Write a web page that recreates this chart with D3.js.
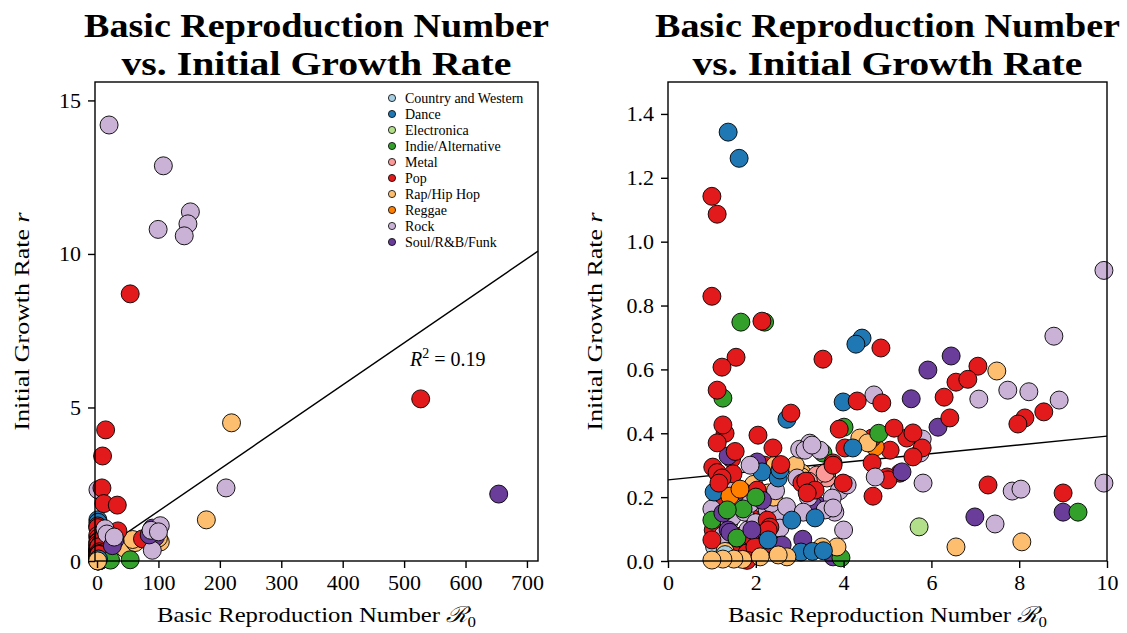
<!DOCTYPE html>
<html>
<head>
<meta charset="utf-8">
<script src="https://cdn.jsdelivr.net/npm/d3@7"></script>
<style>
  body { margin: 0; background: #fff; }
  svg text { font-family: "Liberation Serif", "DejaVu Serif", serif; fill: #000; }
</style>
</head>
<body>
<svg id="chart" width="1127" height="633"></svg>
<script>
// Genre names and their colours (ColorBrewer "Paired")
const genres = ["Country and Western", "Dance", "Electronica", "Indie/Alternative", "Metal",
                "Pop", "Rap/Hip Hop", "Reggae", "Rock", "Soul/R&B/Funk"];
const genreColors = ["#a6cee3", "#1f78b4", "#b2df8a", "#33a02c", "#fb9a99",
                     "#e31a1c", "#fdbf6f", "#ff7f00", "#cab2d6", "#6a3d9a"];

// Each song: [basic reproduction number R0, initial growth rate r]
const countryWestern = [[1.06, 0.045], [1.3, 0.02]];
const dance = [[1.37, 1.343], [1.62, 1.261], [4.42, 0.698], [4.28, 0.679], [3.99, 0.498],
  [4.21, 0.354], [2.71, 0.444], [1.05, 0.216], [2.14, 0.279], [2.51, 0.26], [2.55, 0.285],
  [2.82, 0.128], [3.35, 0.135], [3.03, 0.028], [3.29, 0.03], [3.54, 0.032], [2.28, 0.066]];
const electronica = [[5.72, 0.107]];
const indie = [[1.66, 0.748], [2.2, 0.748], [1.25, 0.51], [4.01, 0.419], [4.8, 0.4],
  [3.53, 0.338], [9.34, 0.153], [1.71, 0.163], [1.0, 0.128], [1.57, 0.072], [3.94, 0.01],
  [1.35, 0.16], [2.0, 0.2], [54, 0.04], [22, 0.03]];
const metal = [[3.62, 0.26], [3.39, 0.269], [3.58, 0.275], [3.2, 0.25]];
const pop = [[1.03, 0.097], [1.57, 0.034], [1.71, 0.081], [2.03, 0.056], [2.2, 0.3],
  [1.3, 0.19], [1.9, 0.15], [2.4, 0.05], [1.2, 0.05], [2.1, 0.17], [1.45, 0.32], [1.3, 0.4],
  [5.06, 0.347], [5.28, 0.275], [4.99, 0.263], [5.01, 0.254], [4.65, 0.385], [4.03, 0.354],
  [4.65, 0.307], [5.44, 0.385], [5.79, 0.354], [5.58, 0.326],
  [1.0, 1.142], [1.12, 1.086], [1.0, 0.829], [2.14, 0.751], [3.53, 0.632],
  [4.85, 0.667], [1.55, 0.638], [1.23, 0.607], [1.12, 0.535], [4.31, 0.501], [4.87, 0.495],
  [6.56, 0.56], [6.29, 0.513], [7.06, 0.61], [6.83, 0.569], [6.42, 0.448], [8.56, 0.467],
  [8.13, 0.448], [7.97, 0.429], [3.9, 0.413], [5.15, 0.416], [5.58, 0.401],
  [3.76, 0.307], [7.29, 0.238], [9.0, 0.213], [4.67, 0.203],
  [2.26, 0.128], [2.32, 0.106], [1.87, 0.066], [2.28, 0.097], [1.0, 0.066], [1.48, 0.025],
  [1.8, 0.025], [1.98, 0.044], [1.8, 0.002], [2.03, 0.222],
  [74, 0.72], [12, 0.8], [34, 0.98], [54, 8.7], [527, 5.28], [14, 4.27], [9, 3.42],
  [1.25, 0.426], [1.12, 0.37], [1.53, 0.343], [1.02, 0.294], [1.12, 0.277],
  [1.48, 0.273], [1.23, 0.26], [1.16, 0.244], [2.05, 0.394], [2.39, 0.354], [2.57, 0.302],
  [2.8, 0.463], [3.05, 0.244], [3.14, 0.25], [3.76, 0.3], [3.99, 0.244], [3.35, 0.222],
  [3.17, 0.213], [8, 2.38], [11, 1.87], [33, 1.82]];
const rapHipHop = [[7.49, 0.595], [6.56, 0.044], [8.06, 0.06], [2.28, 0.213], [1.18, 0.138],
  [3.62, 0.279], [3.05, 0.275], [4.37, 0.385], [4.55, 0.37], [2.44, 0.3], [3.05, 0.263],
  [1.95, 0.24], [2.4, 0.2], [2.9, 0.3],
  [219, 4.5], [178, 1.34], [46, 0.4], [62, 0.6], [103, 0.62], [100, 0.75], [58, 0.7],
  [1.3, 0.03], [1.7, 0.005], [3.85, 0.044], [3.51, 0.044], [2.71, 0.013], [2.51, 0.019],
  [2.1, 0.013], [1.5, 0.006], [1.25, 0.006], [1.0, 0.003]];
const reggae = [[4.72, 0.357], [1.41, 0.203], [1.64, 0.225]];
const rock = [[9.93, 0.91], [8.79, 0.704], [4.69, 0.52], [7.08, 0.507], [7.74, 0.535],
  [8.22, 0.53], [8.91, 0.504], [5.81, 0.244], [7.84, 0.219], [8.04, 0.225], [7.45, 0.116],
  [9.93, 0.244], [5.79, 0.382], [5.74, 0.338],
  [1.64, 0.191], [1.98, 0.191], [2.21, 0.169], [2.26, 0.16],
  [1.0, 0.163], [1.39, 0.122], [1.82, 0.097], [2.51, 0.128], [2.48, 0.144],
  [1.46, 0.138], [1.75, 0.153], [1.87, 0.18], [2.35, 0.18], [2.55, 0.103], [1.1, 0.22],
  [1.55, 0.23], [2.0, 0.12], [1.25, 0.08], [2.7, 0.17], [3.0, 0.35], [3.2, 0.2],
  [3.9, 0.22], [2.45, 0.22],
  [3.23, 0.369], [3.12, 0.347], [3.46, 0.347],
  [3.28, 0.363], [3.74, 0.197], [4.08, 0.238], [3.8, 0.153], [3.08, 0.153], [4.0, 0.097],
  [2.94, 0.26], [1.87, 0.3], [3.58, 0.16], [3.76, 0.166], [4.72, 0.263],
  [19.6, 14.2], [108, 12.87], [99.5, 10.8], [152, 11.37], [148, 10.98], [142, 10.59],
  [210, 2.38], [1.5, 2.32], [103, 1.15], [90, 0.35], [13, 1.05], [16, 0.88], [88, 1.0],
  [100, 0.95], [28, 0.78]];
const soulRnbFunk = [[6.45, 0.642], [5.92, 0.598], [5.54, 0.508], [6.15, 0.419], [9.0, 0.153],
  [6.99, 0.138], [5.33, 0.279], [1.37, 0.329], [2.03, 0.31], [1.91, 0.232], [1.71, 0.216],
  [3.44, 0.172], [3.3, 0.175], [3.07, 0.068], [3.76, 0.013], [1.37, 0.097], [1.59, 0.041],
  [1.41, 0.09], [1.91, 0.097], [1.25, 0.15], [2.15, 0.19], [2.6, 0.05],
  [654, 2.18], [90, 1.07], [95, 0.78], [29, 0.68], [85, 0.85], [25, 0.5]];

const genrePoints = [countryWestern, dance, electronica, indie, metal,
                     pop, rapHipHop, reggae, rock, soulRnbFunk];

// Songs in plotting order: each genre's list is spread evenly through the
// drawing sequence, so no genre sits entirely on top of another.
const songs = d3.sort(
  genrePoints.flatMap((pts, i) =>
    pts.map((d, k) => ({ genre: i, r0: d[0], r: d[1], rank: (k + 0.5) / pts.length }))),
  (a, b) => a.rank - b.rank || a.genre - b.genre);

// Least-squares fit of r on R0
const fitSlope = 0.0137;
const fitIntercept = 0.254;
const fitR2 = 0.19;

// Tick values
const leftXTicks = [0, 100, 200, 300, 400, 500, 600, 700];
const leftYTicks = [0, 5, 10, 15];
const rightXTicks = [0, 2, 4, 6, 8, 10];
const rightYTicks = [0, 0.2, 0.4, 0.6, 0.8, 1.0, 1.2, 1.4];

const svg = d3.select("#chart");

const panels = [
  { x0: 95, x1: 538, y0: 82, y1: 561, xDomain: [-3.3, 718], yDomain: [0, 15.6],
    xTicks: leftXTicks, yTicks: leftYTicks, yFmt: d3.format("d"), onlyInside: false,
    legend: true, r2: true },
  { x0: 668, x1: 1107, y0: 82, y1: 561, xDomain: [0, 10], yDomain: [0, 1.5],
    xTicks: rightXTicks, yTicks: rightYTicks, yFmt: d3.format(".1f"), onlyInside: true,
    legend: false, r2: false }
];

panels.forEach(p => {
  const x = d3.scaleLinear().domain(p.xDomain).range([p.x0, p.x1]);
  const y = d3.scaleLinear().domain(p.yDomain).range([p.y1, p.y0]);
  const g = svg.append("g");
  const cx = (p.x0 + p.x1) / 2;

  // fitted line across the full x range
  const [xa, xb] = p.xDomain;
  g.append("line")
    .attr("x1", x(xa)).attr("y1", y(fitIntercept + fitSlope * xa))
    .attr("x2", x(xb)).attr("y2", y(fitIntercept + fitSlope * xb))
    .attr("stroke", "#000").attr("stroke-width", 1.4);

  // songs
  const shown = p.onlyInside
    ? songs.filter(d => d.r0 >= p.xDomain[0] && d.r0 <= p.xDomain[1] &&
                        d.r >= p.yDomain[0] && d.r <= p.yDomain[1])
    : songs;
  g.append("g").selectAll("circle").data(shown).join("circle")
    .attr("cx", d => x(d.r0)).attr("cy", d => y(d.r)).attr("r", 9)
    .attr("fill", d => genreColors[d.genre]).attr("stroke", "#000").attr("stroke-width", 0.9);

  // frame
  g.append("rect")
    .attr("x", p.x0).attr("y", p.y0).attr("width", p.x1 - p.x0).attr("height", p.y1 - p.y0)
    .attr("fill", "none").attr("stroke", "#000").attr("stroke-width", 1.4);

  // axes
  const xAxis = g.append("g").attr("transform", `translate(0,${p.y1})`)
    .call(d3.axisBottom(x).tickValues(p.xTicks).tickSize(7).tickPadding(6).tickFormat(d3.format("d")));
  const yAxis = g.append("g").attr("transform", `translate(${p.x0},0)`)
    .call(d3.axisLeft(y).tickValues(p.yTicks).tickSize(7).tickPadding(7).tickFormat(p.yFmt));
  [xAxis, yAxis].forEach(a => {
    a.select(".domain").remove();
    a.attr("font-family", null).attr("font-size", null);
    a.selectAll("line").attr("stroke", "#000").attr("stroke-width", 1.4);
    a.selectAll("text").attr("font-size", 22).attr("fill", "#000");
  });

  // title
  const title = g.append("text").attr("text-anchor", "middle")
    .attr("font-weight", "bold").attr("font-size", 34);
  title.append("tspan").attr("x", cx).attr("y", 37)
    .attr("textLength", 465).attr("lengthAdjust", "spacingAndGlyphs")
    .text("Basic Reproduction Number");
  title.append("tspan").attr("x", cx).attr("y", 75)
    .attr("textLength", 390).attr("lengthAdjust", "spacingAndGlyphs")
    .text("vs. Initial Growth Rate");

  // x label
  const xl = g.append("text").attr("x", cx).attr("y", 622).attr("text-anchor", "middle")
    .attr("font-size", 22).attr("textLength", 319).attr("lengthAdjust", "spacingAndGlyphs");
  xl.append("tspan").text("Basic Reproduction Number ");
  xl.append("tspan").attr("font-style", "italic").text("ℛ");
  xl.append("tspan").attr("font-size", 15).attr("dy", 5).text("0");

  // y label
  const yl = g.append("text")
    .attr("transform", `translate(${p.x0 - 66},${(p.y0 + p.y1) / 2}) rotate(-90)`)
    .attr("text-anchor", "middle").attr("font-size", 22)
    .attr("textLength", 218).attr("lengthAdjust", "spacingAndGlyphs");
  yl.append("tspan").text("Initial Growth Rate ");
  yl.append("tspan").attr("font-style", "italic").text("r");

  if (p.r2) {
    const t = g.append("text").attr("x", 410).attr("y", 366).attr("font-size", 20);
    t.append("tspan").attr("font-style", "italic").text("R");
    t.append("tspan").attr("font-size", 14).attr("dy", -8).text("2");
    t.append("tspan").attr("dy", 8).text(" = " + d3.format(".2f")(fitR2));
  }

  if (p.legend) {
    const lg = g.append("g");
    genres.forEach((name, i) => {
      const ly = 98 + i * 16;
      lg.append("circle").attr("cx", 392).attr("cy", ly).attr("r", 3.6)
        .attr("fill", genreColors[i]).attr("stroke", "#000").attr("stroke-width", 0.8);
      lg.append("text").attr("x", 405).attr("y", ly + 4.5).attr("font-size", 14).text(name);
    });
  }
});
</script>
</body>
</html>
